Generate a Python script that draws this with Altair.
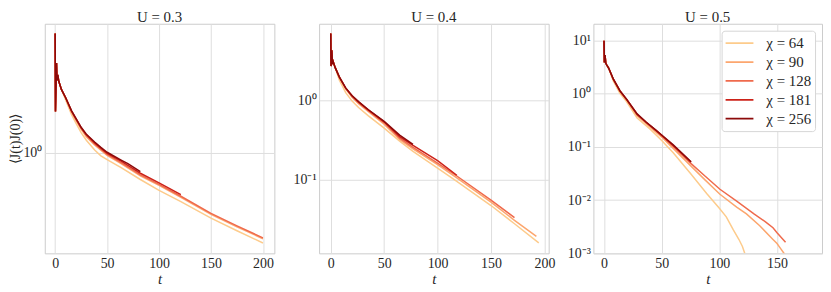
import altair as alt
import pandas as pd

chi_labels = ["χ = 64", "χ = 90", "χ = 128", "χ = 181", "χ = 256"]
colors = ["#fdcb8b", "#fca66e", "#ef6a4c", "#cc2218", "#8c0a0a"]

# ---------------- U = 0.3 ----------------
u03_common_t = [0, 0.3, 1.3, 1.8, 2.5, 3.5, 6]
u03_common_v = [8.25, 2.08, 4.9, 3.6, 3.97, 3.54, 3.07]
u03_t_256 = [10, 15.7, 20, 25, 30, 38, 44, 50, 63.5, 70, 82]
u03_v_256 = [2.66, 2.11, 1.84, 1.57, 1.39, 1.21, 1.10, 1.01, 0.88, 0.825, 0.718]
u03_t_181 = [10, 15.7, 20, 25, 30, 38, 44, 50, 63.5, 70, 82, 100, 121]
u03_v_181 = [2.66, 2.10, 1.83, 1.56, 1.38, 1.19, 1.085, 0.99, 0.862, 0.80, 0.697, 0.587, 0.478]
u03_t_long = [10, 15.7, 20, 25, 30, 38, 44, 50, 63.5, 82, 100, 121, 150, 175, 200]
u03_v_128 = [2.66, 2.08, 1.81, 1.54, 1.36, 1.17, 1.065, 0.974, 0.84, 0.676, 0.573, 0.464, 0.343, 0.275, 0.222]
u03_v_90 = [2.64, 2.05, 1.78, 1.52, 1.33, 1.15, 1.05, 0.957, 0.825, 0.664, 0.562, 0.456, 0.337, 0.270, 0.219]
u03_v_64 = [2.56, 1.97, 1.69, 1.43, 1.25, 1.05, 0.949, 0.885, 0.77, 0.624, 0.515, 0.422, 0.315, 0.252, 0.203]

# ---------------- U = 0.4 ----------------
u04_common_t = [0, 0.3, 1.0, 1.6, 2.2, 4]
u04_common_v = [7.08, 2.74, 4.34, 2.90, 3.16, 2.66]
u04_t_256 = [8, 14, 20, 26, 35, 50, 64.5, 77]
u04_v_256 = [2.00, 1.45, 1.155, 0.972, 0.772, 0.546, 0.365, 0.278]
u04_t_181 = [8, 14, 20, 26, 35, 50, 64.5, 77, 100, 118]
u04_v_181 = [2.00, 1.44, 1.15, 0.965, 0.765, 0.539, 0.350, 0.270, 0.173, 0.113]
u04_t_128 = [8, 14, 20, 26, 35, 50, 64.5, 77, 100, 118, 150, 172]
u04_v_128 = [1.99, 1.43, 1.13, 0.94, 0.75, 0.523, 0.335, 0.255, 0.161, 0.1106, 0.0546, 0.0328]
u04_t_90 = [8, 14, 20, 26, 35, 50, 64.5, 77, 100, 118, 150, 172, 192.5]
u04_v_90 = [1.97, 1.41, 1.106, 0.917, 0.729, 0.501, 0.321, 0.244, 0.154, 0.1044, 0.0516, 0.0303, 0.0190]
u04_t_64 = [8, 14, 20, 26, 35, 50, 64.5, 77, 100, 118, 150, 172, 194.7]
u04_v_64 = [1.83, 1.26, 0.986, 0.818, 0.644, 0.447, 0.307, 0.227, 0.139, 0.0944, 0.0467, 0.0274, 0.0157]

# ---------------- U = 0.5 ----------------
u05_common_t = [0, 0.3, 0.9, 1.5, 2.3, 4]
u05_common_v = [9.87, 3.86, 5.34, 3.75, 3.49, 3.03]
u05_t_256 = [8, 13.8, 19.5, 28.7, 36.7, 45, 50, 60, 75.5]
u05_v_256 = [1.90, 1.137, 0.791, 0.417, 0.290, 0.2065, 0.167, 0.109, 0.0528]
u05_t_181 = [8, 13.8, 19.5, 28.7, 36.7, 45, 50, 60, 75.5]
u05_v_181 = [1.89, 1.13, 0.785, 0.412, 0.287, 0.204, 0.165, 0.107, 0.0516]
u05_t_128 = [8, 13.8, 19.5, 28.7, 50, 60, 75, 88, 100.5, 115, 130, 140, 146.5, 150, 157.4]
u05_v_128 = [1.88, 1.12, 0.78, 0.400, 0.163, 0.102, 0.0495, 0.0278, 0.0160, 0.00958, 0.00551, 0.00391, 0.00303, 0.00245, 0.00162]
u05_t_90 = [8, 13.8, 19.5, 28.7, 50, 60, 75, 88, 100.5, 115, 123.5, 135, 146.5, 150, 153, 156.6]
u05_v_90 = [1.86, 1.10, 0.765, 0.383, 0.153, 0.0938, 0.0445, 0.0235, 0.0129, 0.00742, 0.00551, 0.0033, 0.00182, 0.00153, 0.00124, 0.00096]
u05_t_64 = [8, 13.8, 19.5, 28.7, 40, 50, 60, 75, 89, 100, 106, 112, 117, 120, 122]
u05_v_64 = [1.74, 1.02, 0.711, 0.349, 0.2154, 0.132, 0.0774, 0.0316, 0.0133, 0.00702, 0.00484, 0.00278, 0.00182, 0.00135, 0.00100]


def build(common_t, common_v, series):
    rows = []
    for label, ts, vs in series:
        for t, v in zip(common_t + ts, common_v + vs):
            rows.append({"t": t, "v": v, "label": label})
    return pd.DataFrame(rows)


df03 = build(u03_common_t, u03_common_v, [
    (chi_labels[0], u03_t_long, u03_v_64),
    (chi_labels[1], u03_t_long, u03_v_90),
    (chi_labels[2], u03_t_long, u03_v_128),
    (chi_labels[3], u03_t_181, u03_v_181),
    (chi_labels[4], u03_t_256, u03_v_256),
])
df04 = build(u04_common_t, u04_common_v, [
    (chi_labels[0], u04_t_64, u04_v_64),
    (chi_labels[1], u04_t_90, u04_v_90),
    (chi_labels[2], u04_t_128, u04_v_128),
    (chi_labels[3], u04_t_181, u04_v_181),
    (chi_labels[4], u04_t_256, u04_v_256),
])
df05 = build(u05_common_t, u05_common_v, [
    (chi_labels[0], u05_t_64, u05_v_64),
    (chi_labels[1], u05_t_90, u05_v_90),
    (chi_labels[2], u05_t_128, u05_v_128),
    (chi_labels[3], u05_t_181, u05_v_181),
    (chi_labels[4], u05_t_256, u05_v_256),
])

label_expr = ("datum.value >= 5 ? '10¹' : datum.value >= 0.5 ? '10⁰' : "
              "datum.value >= 0.05 ? '10⁻¹' : datum.value >= 0.005 ? '10⁻²' : '10⁻³'")

FONT = "Liberation Serif"
TXT = "#262626"
H = 231


def panel(df, title, xdomain, xticks, ydomain, yticks, ytitle, legend, width):
    color = alt.Color(
        "label:N",
        scale=alt.Scale(domain=chi_labels, range=colors),
        legend=legend,
    )
    yaxis = alt.Axis(values=yticks, labelExpr=label_expr, title=ytitle)
    return alt.Chart(df, title=alt.Title(title)).mark_line(strokeWidth=1.5, clip=True).encode(
        x=alt.X("t:Q", scale=alt.Scale(domain=xdomain, nice=False, zero=False),
                axis=alt.Axis(values=xticks, title="t")),
        y=alt.Y("v:Q", scale=alt.Scale(type="log", domain=ydomain, nice=False), axis=yaxis),
        color=color,
    ).properties(width=width, height=H)


legend = alt.Legend(
    title=None, orient="top-right", offset=7,
    fillColor="white", strokeColor="#d6d6d6", cornerRadius=3, padding=3,
    symbolType="stroke", symbolSize=784, symbolStrokeWidth=1.8,
    labelFont=FONT, labelFontSize=15, labelColor=TXT, labelOffset=12,
    clipHeight=19, rowPadding=0,
)

p1 = panel(df03, "U = 0.3", [-10, 211], [0, 50, 100, 150, 200], [0.169, 9.8], [1], "⟨J(t)J(0)⟩", None, 231)
p2 = panel(df04, "U = 0.4", [-10.9, 204], [0, 50, 100, 150, 200], [0.01155, 9.44], [0.1, 1], None, None, 231)
p3 = panel(df05, "U = 0.5", [-9.2, 189], [0, 50, 100, 150], [0.001, 20.6], [0.001, 0.01, 0.1, 1, 10], None, legend, 230)

chart = alt.hconcat(p1, p2, p3, spacing=45, bounds="flush").resolve_scale(color="independent").properties(
    padding={"left": 0, "top": 0, "right": 0, "bottom": 0}
).configure_view(
    stroke="#cccccc", strokeWidth=1
).configure_axis(
    grid=True, gridColor="#dedede", gridWidth=1, ticks=False, domain=False,
    labelFont=FONT, labelFontSize=14, labelColor=TXT, labelPadding=3,
    titleFont=FONT, titleFontSize=15, titleColor=TXT, titleFontWeight="normal",
).configure_axisX(
    titleFontStyle="italic", titlePadding=1,
).configure_axisY(
    titlePadding=0, titleFontSize=14,
).configure_title(
    font=FONT, fontSize=15, color=TXT, fontWeight="normal", offset=-1,
)

chart.save("out.html", embed_options={"renderer": "svg", "actions": False})
